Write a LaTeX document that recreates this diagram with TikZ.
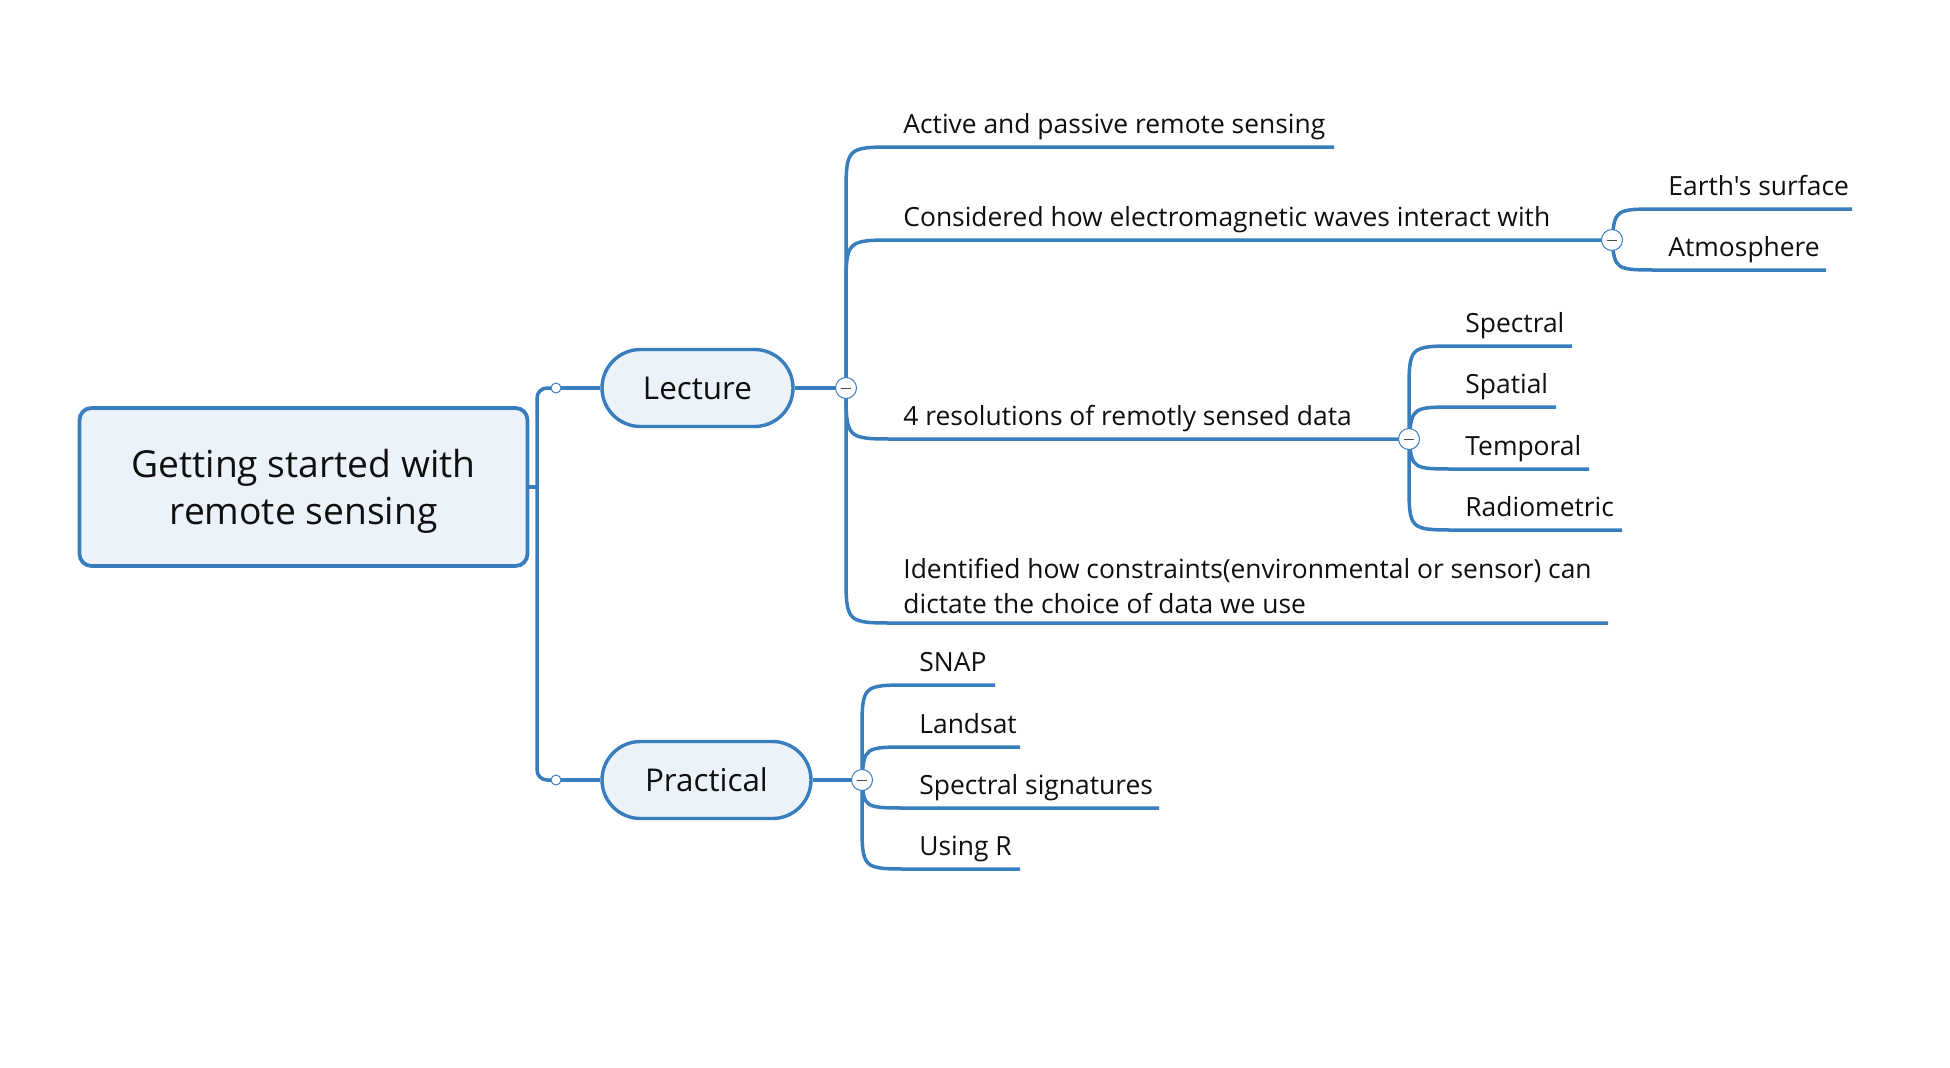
\documentclass[tikz,border=0pt]{standalone}
\usepackage{fontspec}
\setmainfont{Open Sans}
\newfontfamily\plainsans{Open Sans}
\usetikzlibrary{shapes.misc}
\definecolor{xblue}{RGB}{56,125,190}
\definecolor{xfill}{RGB}{235,242,249}
\definecolor{xtext}{RGB}{15,15,15}
\tikzset{
  conn/.style={draw=xblue, line width=1.75pt},
  rootbox/.style={draw=xblue, fill=xfill, line width=1.9pt, rounded corners=6pt,
    minimum width=224pt, minimum height=79pt, align=center, inner sep=0pt,
    font=\fontsize{18.6}{23.5}\selectfont, text=xtext},
  pill/.style={rounded rectangle, draw=xblue, fill=xfill, line width=1.7pt,
    minimum height=38.5pt, inner sep=0pt, font=\fontsize{15.7}{18}\selectfont, text=xtext},
  leaf/.style={anchor=base west, inner sep=0pt, font=\fontsize{13.2}{17.5}\selectfont, text=xtext},
  minusc/.style={circle, draw=xblue, fill=white, line width=0.5pt, minimum size=10.5pt, inner sep=0pt},
  smalldot/.style={circle, draw=xblue, fill=white, line width=0.5pt, minimum size=5pt, inner sep=0pt}
}
\begin{document}
\begin{tikzpicture}[x=0.5pt,y=-0.5pt]
\useasboundingbox (0,0) rectangle (1950,1067);
% main nodes
\node[rootbox] (root) at (303.5,487) {\raisebox{-2.3pt}[\height][\depth]{Getting started with}\\\raisebox{-2.3pt}[\height][\depth]{remote sensing}};
\node[pill, minimum width=95.5pt] (lec) at (697.5,388) {Lecture};
\node[pill, minimum width=104.5pt] (prac) at (706.5,780) {Practical};
% junction points
\coordinate (lecdot) at (556,388);
\coordinate (pracdot) at (556,780);
\coordinate (rootj) at (537,487);
\coordinate (lecm) at (846,388);
\coordinate (pracm) at (862,780);
\coordinate (emm) at (1612,240);
\coordinate (resm) at (1409,439);
% leaf texts
\node[leaf] (l1) at (903,133) {Active and passive remote sensing};
\node[leaf] (l2) at (903,226) {Considered how electromagnetic waves interact with};
\node[leaf] (l3) at (903,425) {4 resolutions of remotly sensed data};
\node[leaf, align=left] (l4) at (903,613) {Identified how constraints(environmental or sensor) can\\dictate the choice of data we use};
\node[leaf] (e1) at (1668,195) {{\plainsans Earth's surface}};
\node[leaf] (e2) at (1668,256) {Atmosphere};
\node[leaf] (r1) at (1465,332) {Spectral};
\node[leaf] (r2) at (1465,393) {Spatial};
\node[leaf] (r3) at (1465,455) {Temporal};
\node[leaf] (r4) at (1465,516) {Radiometric};
\node[leaf] (p1) at (919,671) {SNAP};
\node[leaf] (p2) at (919,733) {Landsat};
\node[leaf] (p3) at (919,794) {Spectral signatures};
\node[leaf] (p4) at (919,855) {Using R};
% underline ends
\coordinate (l1e) at (1334,147);
\coordinate (l4e) at (1608,623);
\coordinate (e1e) at (1852,209);
\coordinate (e2e) at (1826,270);
\coordinate (r1e) at (1572,346);
\coordinate (r2e) at (1556,407);
\coordinate (r3e) at (1589,469);
\coordinate (r4e) at (1622,530);
\coordinate (p1e) at (995,685);
\coordinate (p2e) at (1020,747);
\coordinate (p3e) at (1159,808);
\coordinate (p4e) at (1020,869);
% root connectors
\draw[conn] (root.east) -- (rootj);
\draw[conn, rounded corners=5pt] (lecdot) -- (537,388) -- (537,780) -- (pracdot);
\draw[conn] (lecdot) -- (lec.west);
\draw[conn] (pracdot) -- (prac.west);
\draw[conn] (lec.east) -- (lecm);
\draw[conn] (prac.east) -- (pracm);
% lecture branches
\draw[conn] (lecm) -- (846,197) .. controls (846,147) .. (896,147) -- (l1e);
\draw[conn] (lecm) -- (846,290) .. controls (846,240) .. (896,240) -- (emm);
\draw[conn] (lecm) .. controls (846,439) .. (896,439) -- (resm);
\draw[conn] (lecm) -- (846,573) .. controls (846,623) .. (896,623) -- (l4e);
% em branches
\draw[conn] (emm) .. controls (1615,209) .. (1660,209) -- (e1e);
\draw[conn] (emm) .. controls (1615,270) .. (1660,270) -- (e2e);
% resolution branches
\draw[conn] (resm) -- (1409,394) .. controls (1409,346) .. (1457,346) -- (r1e);
\draw[conn] (resm) .. controls (1412,407) .. (1457,407) -- (r2e);
\draw[conn] (resm) .. controls (1412,469) .. (1457,469) -- (r3e);
\draw[conn] (resm) -- (1409,482) .. controls (1409,530) .. (1457,530) -- (r4e);
% practical branches
\draw[conn] (pracm) -- (862,733) .. controls (862,685) .. (910,685) -- (p1e);
\draw[conn] (pracm) .. controls (864,747) .. (910,747) -- (p2e);
\draw[conn] (pracm) .. controls (864,808) .. (910,808) -- (p3e);
\draw[conn] (pracm) -- (862,821) .. controls (862,869) .. (910,869) -- (p4e);
% dots and collapse markers
\node[smalldot] (d1) at (lecdot) {};
\node[smalldot] (d2) at (pracdot) {};
\foreach \m in {lecm,pracm,emm,resm}{
  \node[minusc] (\m c) at (\m) {};
  \draw[black!70, line width=0.5pt] ([xshift=-2.3pt]\m) -- ([xshift=2.3pt]\m);
}
\end{tikzpicture}
\end{document}
